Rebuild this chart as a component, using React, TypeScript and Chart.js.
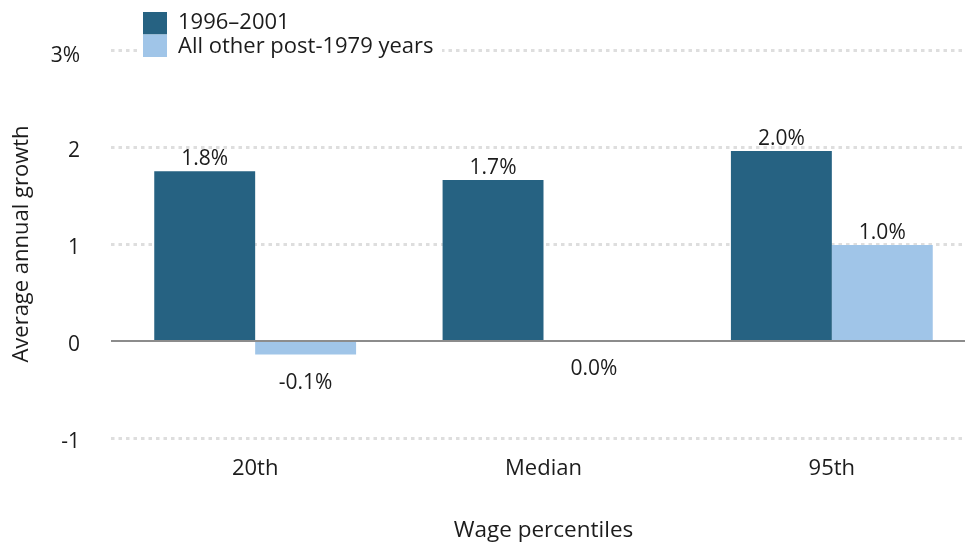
import React, { useEffect, useRef } from "react";
import { Chart, registerables } from "chart.js";
Chart.register(...registerables);

const categories = ["20th", "Median", "95th"];
const series1Label = "1996–2001";
const series2Label = "All other post-1979 years";
const series1 = [1.75, 1.66, 1.96];
const series2 = [-0.14, 0.0, 0.99];
const yTicks = [-1, 0, 1, 2, 3];
const yTickLabels = ["-1", "0", "1", "2", "3%"];
const yTitle = "Average annual growth";
const xTitle = "Wage percentiles";

const DARK = "#266282";
const LIGHT = "#a0c5e8";
const TEXT = "#1c1c1c";
const FONT = "'Open Sans', sans-serif";

const extras = {
  id: "extras",
  afterDraw(chart: any) {
    const ctx = chart.ctx;
    const area = chart.chartArea;
    const yScale = chart.scales.y;
    ctx.save();
    // y tick labels
    ctx.fillStyle = TEXT;
    ctx.font = `21px ${FONT}`;
    ctx.textAlign = "right";
    ctx.textBaseline = "middle";
    yTicks.forEach((v, i) => {
      const y = yScale.getPixelForValue(v) + (v === 3 ? 6 : 4.5);
      ctx.fillText(yTickLabels[i], 80, y);
    });
    // data labels
    ctx.font = `21px ${FONT}`;
    ctx.textAlign = "center";
    ctx.textBaseline = "alphabetic";
    chart.data.datasets.forEach((ds: any, di: number) => {
      const meta = chart.getDatasetMeta(di);
      meta.data.forEach((el: any, i: number) => {
        const v = ds.data[i];
        const txt = v.toFixed(1) + "%";
        if (v > 0) ctx.fillText(txt, el.x, el.y - 6);
        else ctx.fillText(txt, el.x, el.y + 34);
      });
    });
    // y title
    ctx.font = `22px ${FONT}`;
    ctx.textBaseline = "middle";
    ctx.save();
    ctx.translate(22, (area.top + area.bottom) / 2);
    ctx.rotate(-Math.PI / 2);
    ctx.fillText(yTitle, 0, 0);
    ctx.restore();
    // x title
    ctx.font = `22.5px ${FONT}`;
    ctx.fillText(xTitle, (area.left + area.right) / 2, 531);
    // legend
    ctx.font = `22px ${FONT}`;
    ctx.fillStyle = "#ffffff";
    ctx.fillRect(137, 40, 305, 20);
    const items = [
      { label: series1Label, color: DARK },
      { label: series2Label, color: LIGHT },
    ];
    ctx.textAlign = "left";
    items.forEach((it, k) => {
      ctx.fillStyle = it.color;
      ctx.fillRect(143, 12 + k * 22.5, 24, 22.5);
      ctx.fillStyle = TEXT;
      ctx.fillText(it.label, 178, 23 + k * 24);
    });
    ctx.restore();
  },
};

export default function App() {
  const ref = useRef<HTMLCanvasElement>(null);
  useEffect(() => {
    document.body.style.margin = "0";
    const chart = new Chart(ref.current!, {
      type: "bar",
      data: {
        labels: categories,
        datasets: [
          { label: series1Label, data: series1, backgroundColor: DARK, barPercentage: 1, categoryPercentage: 0.7 },
          { label: series2Label, data: series2, backgroundColor: LIGHT, barPercentage: 1, categoryPercentage: 0.7 },
        ],
      },
      options: {
        responsive: false,
        animation: false,
        layout: { padding: { top: 50, left: 0, right: 0, bottom: 0 } },
        plugins: { legend: { display: false }, tooltip: { enabled: false } },
        scales: {
          x: {
            grid: { display: false },
            border: { display: false },
            ticks: { color: TEXT, font: { family: FONT, size: 22 }, padding: 10 },
            afterFit: (s: any) => { s.height = 106; },
          },
          y: {
            min: -1,
            max: 3,
            afterBuildTicks: (s: any) => { s.ticks = yTicks.map((v) => ({ value: v })); },
            grid: {
              drawTicks: false,
              tickLength: 0,
              color: (c: any) => (c.tick && c.tick.value === 0 ? "#8c8c8c" : "#dedede"),
              lineWidth: (c: any) => (c.tick && c.tick.value === 0 ? 2 : 3),
            },
            border: {
              display: false,
              dash: (c: any) => (c.tick && c.tick.value === 0 ? [] : [3.5, 4]),
            },
            ticks: { display: false },
            afterFit: (s: any) => { s.width = 111; },
          },
        },
      },
      plugins: [extras],
    });
    return () => chart.destroy();
  }, []);
  return (
    <div style={{ width: 965, height: 544, overflow: "hidden" }}>
      <canvas ref={ref} width={976} height={544} style={{ display: "block" }} />
    </div>
  );
}
